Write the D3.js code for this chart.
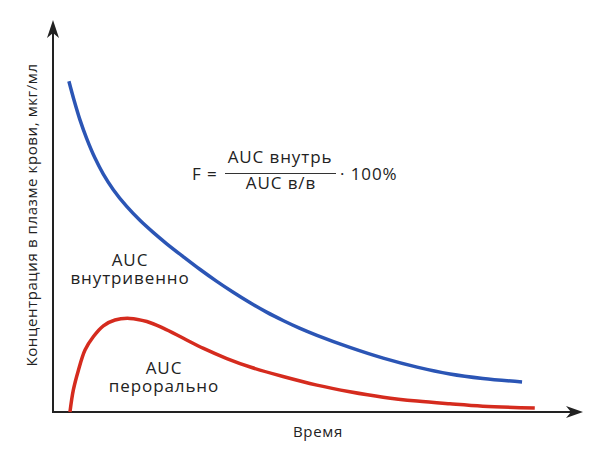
<!DOCTYPE html>
<html><head><meta charset="utf-8">
<script src="https://cdn.jsdelivr.net/npm/d3@7"></script>
<style>body{margin:0;background:#fff}text{font-family:"Open Sans",sans-serif;fill:#222}</style>
</head><body><svg id="c" width="600" height="458"></svg>
<script>
// time (arbitrary units 0..100) and concentration (0..100)
const ivTime = [3.0, 3.96, 5.09, 6.36, 7.92, 9.49, 11.38, 13.9, 16.4, 18.9, 21.4, 24.6, 27.7, 30.9, 34.0, 37.2, 40.3, 43.5, 46.5, 49.8, 56.0, 62.3, 68.7, 74.9, 81.1, 88.5];
const ivConc = [84.8, 80.0, 74.9, 70.1, 65.1, 61.0, 57.0, 52.7, 49.15, 46.05, 43.2, 39.8, 36.6, 33.5, 30.7, 28.0, 25.6, 23.4, 21.5, 19.65, 16.55, 13.8, 11.5, 9.75, 8.6, 7.7];
const poTime = [3.2, 3.83, 4.77, 6.04, 7.6, 9.5, 11.7, 14.5, 17.7, 20.8, 24.6, 28.4, 32.8, 37.5, 43.4, 49.8, 56.0, 62.3, 68.7, 74.9, 81.1, 90.9];
const poConc = [0.0, 5.6, 10.6, 15.9, 19.3, 22.1, 23.6, 24.0, 23.2, 21.5, 18.9, 16.3, 13.7, 11.4, 9.1, 6.9, 5.2, 3.8, 2.8, 2.1, 1.5, 1.0];
const xLabel = "Время";
const yLabel = "Концентрация в плазме крови, мкг/мл";
const ivLabel = ["AUC", "внутривенно"];
const poLabel = ["AUC", "перорально"];
const formula = {lhs: "F =", num: "AUC внутрь", den: "AUC в/в", rhs: "· 100%"};

const svg = d3.select("#c");
const x = d3.scaleLinear().domain([0, 100]).range([53, 583]);
const y = d3.scaleLinear().domain([0, 100]).range([412, 22]);

// axes
svg.append("line").attr("x1", x(0) - 1).attr("x2", x(100) - 8).attr("y1", y(0)).attr("y2", y(0))
  .attr("stroke", "#222").attr("stroke-width", 2);
svg.append("line").attr("x1", x(0)).attr("x2", x(0)).attr("y1", y(0) + 1).attr("y2", y(100) + 8)
  .attr("stroke", "#222").attr("stroke-width", 2);
const xt = x(100), yt = y(0);
svg.append("path").attr("d", `M${xt},${yt} L${xt-17},${yt-6} L${xt-12},${yt} L${xt-17},${yt+6} Z`).attr("fill", "#222");
const ax = x(0), ay = y(100);
svg.append("path").attr("d", `M${ax},${ay-2} L${ax-6},${ay+16} L${ax},${ay+11} L${ax+6},${ay+16} Z`).attr("fill", "#222");

const line = d3.line().curve(d3.curveCatmullRom.alpha(0.5));
svg.append("path").attr("d", line(ivTime.map((t, i) => [x(t), y(ivConc[i])])))
  .attr("fill", "none").attr("stroke", "#2b55b5").attr("stroke-width", 3.5);
svg.append("path").attr("d", line(poTime.map((t, i) => [x(t), y(poConc[i])])))
  .attr("fill", "none").attr("stroke", "#d52b1e").attr("stroke-width", 3.5);

// labels
const fs = 17, ls = 0.9;
svg.append("text").attr("x", 318).attr("y", 437).attr("text-anchor", "middle").attr("font-size", 15)
  .attr("letter-spacing", 0.7).text(xLabel);
svg.append("text").attr("transform", "translate(37,215) rotate(-90)").attr("text-anchor", "middle")
  .attr("font-size", 15).attr("letter-spacing", 0.6).text(yLabel);

function twoLine(lines, cx, y0, dy) {
  const t = svg.append("text").attr("text-anchor", "middle").attr("font-size", fs).attr("letter-spacing", ls);
  lines.forEach((s, i) => t.append("tspan").attr("x", cx).attr("y", y0 + i * dy).text(s));
}
twoLine(ivLabel, 130, 266, 17.5);
twoLine(poLabel, 164, 374, 18);

svg.append("text").attr("x", 192).attr("y", 180).attr("font-size", fs).attr("letter-spacing", ls).text(formula.lhs);
svg.append("text").attr("x", 280).attr("y", 163).attr("text-anchor", "middle").attr("font-size", fs).attr("letter-spacing", ls).text(formula.num);
svg.append("line").attr("x1", 225).attr("x2", 336).attr("y1", 173.5).attr("y2", 173.5).attr("stroke", "#333").attr("stroke-width", 1);
svg.append("text").attr("x", 281).attr("y", 189).attr("text-anchor", "middle").attr("font-size", fs).attr("letter-spacing", ls).text(formula.den);
svg.append("text").attr("x", 340).attr("y", 180).attr("font-size", fs).attr("letter-spacing", ls).text(formula.rhs);
</script></body></html>
